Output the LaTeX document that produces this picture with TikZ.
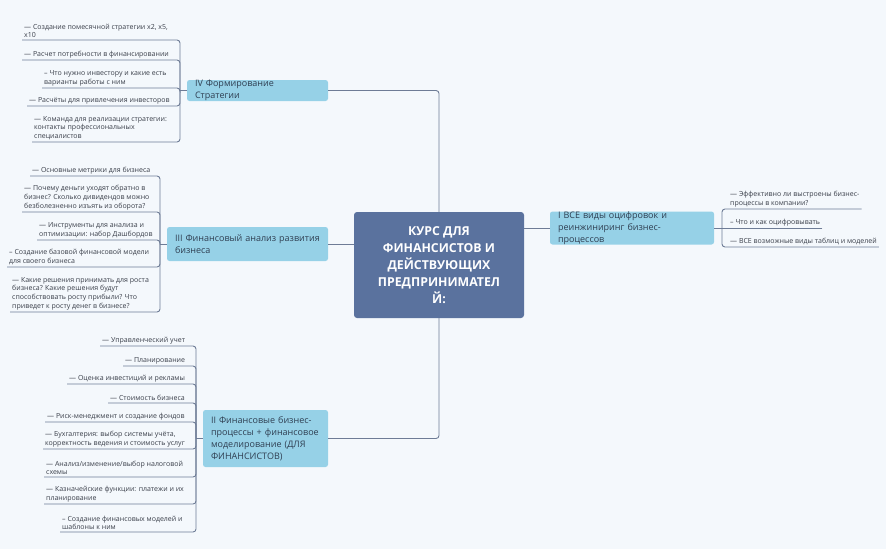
\documentclass[tikz,border=0pt]{standalone}
\usepackage{fontspec}
\setmainfont{Open Sans}
\begin{document}
\begin{tikzpicture}[x=1pt,y=-1pt,
  conn/.style={draw=linec,line width=0.9pt,rounded corners=3pt},
  leaf/.style={anchor=south west,align=left,inner xsep=2pt,inner ysep=2pt,font=\fontsize{7}{8.6}\selectfont,text=leaftxt},
  leafR/.style={leaf},
  branch/.style={fill=branchc,rounded corners=2.5pt,align=left,inner xsep=8pt,inner ysep=0pt,font=\fontsize{9}{12}\selectfont,text=branchtxt},
  center/.style={fill=centerc,rounded corners=3pt,align=center,text=white,font=\fontsize{12.3}{17}\selectfont\bfseries,minimum width=170pt,minimum height=106pt}]
\definecolor{bgc}{HTML}{F4F8FC}
\definecolor{linec}{HTML}{6E7C96}
\definecolor{leaftxt}{HTML}{3A3F4A}
\definecolor{branchc}{HTML}{96D1E7}
\definecolor{branchtxt}{HTML}{2F3F52}
\definecolor{centerc}{HTML}{5A729E}
\fill[bgc] (0,0) rectangle (886,549);
\useasboundingbox (0,0) rectangle (886,549);

\node[center] (c) at (439,265) {КУРС ДЛЯ\\ФИНАНСИСТОВ И\\ДЕЙСТВУЮЩИХ\\ПРЕДПРИНИМАТЕЛ\\Й:};

\node[branch,minimum width=141pt,minimum height=21pt,text width=125pt] (b4) at (257.5,90.5) {IV Формирование Стратегии};
\node[branch,minimum width=161pt,minimum height=34pt,text width=145pt] (b3) at (247.5,244) {III Финансовый анализ развития\\бизнеса};
\node[branch,minimum width=125pt,minimum height=57pt,text width=109pt] (b2) at (265.5,438.5) {II Финансовые бизнес-\\процессы + финансовое\\моделирование (ДЛЯ\\ФИНАНСИСТОВ)};
\node[branch,minimum width=164pt,minimum height=32pt,text width=148pt] (b1) at (632,228) {I ВСЕ виды оцифровок и\\реинжиниринг бизнес-процессов};

\draw[conn] (b4.east) -| (c.north);
\draw[conn] (b3.east) -- (b3.east -| c.west);
\draw[conn] (b2.east) -| (c.south);
\draw[conn] (c.east |- b1.west) -- (b1.west);

% IV
\coordinate (k4) at (180,90.5);
\node[leaf] (l41) at (22,40) {— Создание помесячной стратегии x2, x5,\\x10};
\node[leaf] (l42) at (22,60) {— Расчет потребности в финансировании};
\node[leaf] (l43) at (42,88) {-- Что нужно инвестору и какие есть\\варианты работы с ним};
\node[leaf] (l44) at (27,106) {— Расчёты для привлечения инвесторов};
\node[leaf] (l45) at (32,142) {— Команда для реализации стратегии:\\контакты профессиональных\\специалистов};
\foreach \l in {l41,l42,l43,l44,l45} \draw[conn] (\l.south west) -| (k4);
\draw[conn] (k4) -- (b4.west);

% III
\coordinate (k3) at (160,244);
\node[leaf] (l31) at (30,176) {— Основные метрики для бизнеса};
\node[leaf] (l32) at (22,212) {— Почему деньги уходят обратно в\\бизнес? Сколько дивидендов можно\\безболезненно изъять из оборота?};
\node[leaf] (l33) at (37,240) {— Инструменты для анализа и\\оптимизации: набор Дашбордов};
\node[leaf] (l34) at (7,267) {-- Создание базовой финансовой модели\\для своего бизнеса};
\node[leaf] (l35) at (10,312) {— Какие решения принимать для роста\\бизнеса? Какие решения будут\\способствовать росту прибыли? Что\\приведет к росту денег в бизнесе?};
\foreach \l in {l31,l32,l33,l34,l35} \draw[conn] (\l.south west) -| (k3);
\draw[conn] (k3) -- (b3.west);

% II
\coordinate (k2) at (196,438.5);
\node[leaf] (l21) at (100,346) {— Управленческий учет};
\node[leaf] (l22) at (123,366) {— Планирование};
\node[leaf] (l23) at (67,384) {— Оценка инвестиций и рекламы};
\node[leaf] (l24) at (108,403) {— Стоимость бизнеса};
\node[leaf] (l25) at (45,422) {— Риск-менеджмент и создание фондов};
\node[leaf] (l26) at (43,449) {— Бухгалтерия: выбор системы учёта,\\корректность ведения и стоимость услуг};
\node[leaf] (l27) at (44,477) {— Анализ/изменение/выбор налоговой\\схемы};
\node[leaf] (l28) at (44,504) {— Казначейские функции: платежи и их\\планирование};
\node[leaf] (l29) at (60,532) {-- Создание финансовых моделей и\\шаблоны к ним};
\foreach \l in {l21,l22,l23,l24,l25,l26,l27,l28,l29} \draw[conn] (\l.south west) -| (k2);
\draw[conn] (k2) -- (b2.west);

% I
\coordinate (k1) at (722,228);
\node[leaf] (l11) at (728,209) {— Эффективно ли выстроены бизнес-\\процессы в компании?};
\node[leaf] (l12) at (728,228) {-- Что и как оцифровывать};
\node[leaf] (l13) at (728,247) {— ВСЕ возможные виды таблиц и моделей};
\draw[conn] (l11.south east) -| (k1);
\draw[conn] (l13.south east) -| (k1);
\draw[conn] (l12.south east) -- (k1);
\draw[conn] (b1.east) -- (k1);
\end{tikzpicture}
\end{document}
